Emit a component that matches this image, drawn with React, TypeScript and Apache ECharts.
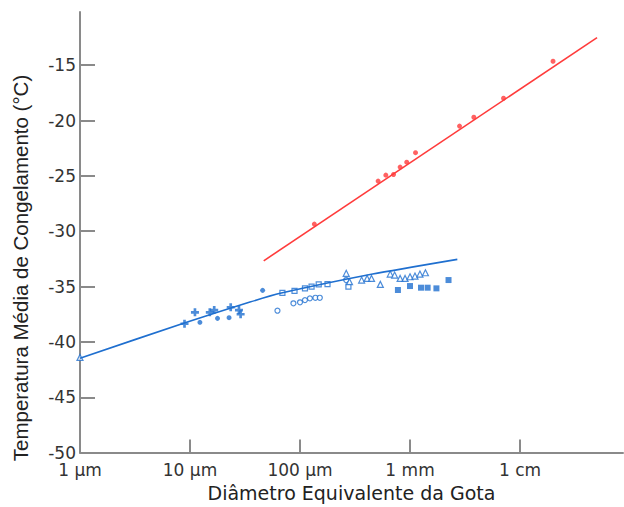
import React, { useEffect, useRef } from "react";
import * as echarts from "echarts";

// x values are log10 of the droplet diameter in µm; y values are temperature in °C
const xTickValues = [0, 1, 2, 3, 4];
const xTickLabels = ["1 μm", "10 μm", "100 μm", "1 mm", "1 cm"];
const yTickValues = [-50, -45, -40, -35, -30, -25, -20, -15];

const redFitLine: [number, number][] = [
  [1.67, -32.67],
  [4.7, -12.5],
];
const redPoints: [number, number][] = [
  [2.13, -29.35],
  [2.71, -25.47],
  [2.78, -24.93],
  [2.85, -24.87],
  [2.91, -24.2],
  [2.97, -23.76],
  [3.05, -22.9],
  [3.45, -20.5],
  [3.58, -19.7],
  [3.85, -17.98],
  [4.3, -14.64],
];

const blueFitLine: [number, number][] = [
  [0, -41.48],
  [0.955, -38.26],
  [1.545, -36.4],
  [1.82, -35.61],
  [2.66, -33.87],
  [3.43, -32.54],
];
const bluePlus: [number, number][] = [
  [0.95, -38.36],
  [1.045, -37.33],
  [1.18, -37.33],
  [1.22, -37.12],
  [1.37, -36.87],
  [1.445, -37.12],
  [1.46, -37.5],
];
const blueDots: [number, number][] = [
  [1.09, -38.23],
  [1.25, -37.87],
  [1.355, -37.81],
  [1.66, -35.34],
];
const blueOpenCircles: [number, number][] = [
  [1.795, -37.18],
  [1.94, -36.51],
  [2.0, -36.42],
  [2.045, -36.22],
  [2.09, -36.06],
  [2.14, -36.01],
  [2.18, -36.01],
  [2.42, -34.41],
];
const blueOpenSquares: [number, number][] = [
  [1.84, -35.56],
  [1.95, -35.38],
  [2.045, -35.16],
  [2.105, -35.01],
  [2.17, -34.8],
  [2.25, -34.77],
  [2.44, -35.01],
];
const blueOpenTriangles: [number, number][] = [
  [0, -41.4],
  [2.42, -33.8],
  [2.45, -34.56],
  [2.56, -34.41],
  [2.61, -34.26],
  [2.65, -34.26],
  [2.73, -34.8],
  [2.82, -33.87],
  [2.86, -33.96],
  [2.91, -34.26],
  [2.955, -34.26],
  [3.0, -34.11],
  [3.045, -34.05],
  [3.09, -33.87],
  [3.14, -33.75],
];
const blueFilledSquares: [number, number][] = [
  [2.89, -35.31],
  [3.0, -34.95],
  [3.1, -35.1],
  [3.16, -35.1],
  [3.24, -35.16],
  [3.35, -34.41],
];

const BLUE = "#1f6fcf";
const RED = "#ff3b3b";
const AXIS = "#8a8a8a";

export default function App() {
  const ref = useRef<HTMLDivElement>(null);
  useEffect(() => {
    if (!ref.current) return;
    const chart = echarts.init(ref.current, null, { renderer: "svg" });
    const openStyle = { color: "#ffffff", borderColor: BLUE, borderWidth: 1.2 };
    chart.setOption({
      animation: false,
      grid: { left: 80, top: 12, width: 543, height: 441 },
      xAxis: {
        type: "value",
        min: 0,
        max: 4.936,
        name: "Diâmetro Equivalente da Gota",
        nameLocation: "middle",
        nameGap: 30,
        nameTextStyle: { fontFamily: "DejaVu Sans", fontSize: 19, color: "#222" },
        axisLine: { lineStyle: { color: AXIS, width: 2 } },
        axisTick: { inside: true, length: 13, lineStyle: { color: AXIS, width: 2 }, customValues: xTickValues },
        axisLabel: {
          customValues: xTickValues,
          margin: 9,
          lineHeight: 16,
          fontFamily: "DejaVu Sans",
          fontSize: 17,
          color: "#333",
          formatter: (v: number) => {
            const i = xTickValues.indexOf(Math.round(v));
            return i >= 0 ? xTickLabels[i] : "";
          },
        },
        splitLine: { show: false },
      },
      yAxis: {
        type: "value",
        min: -50,
        max: -10.19,
        axisLine: { lineStyle: { color: AXIS, width: 2 } },
        axisTick: { inside: true, length: 15, lineStyle: { color: AXIS, width: 2 }, customValues: yTickValues },
        axisLabel: {
          customValues: yTickValues,
          margin: 4,
          lineHeight: 12,
          fontFamily: "DejaVu Sans",
          fontSize: 17,
          color: "#333",
        },
        splitLine: { show: false },
      },
      graphic: [
        {
          type: "text",
          x: 20,
          y: 268,
          rotation: Math.PI / 2,
          style: {
            text: "Temperatura Média de Congelamento (°C)",
            fontFamily: "Liberation Sans",
            fontSize: 20.5,
            fill: "#222",
            align: "center",
            verticalAlign: "middle",
          },
        },
      ],
      series: [
        {
          type: "line",
          data: redFitLine,
          showSymbol: false,
          lineStyle: { color: RED, width: 1.6 },
          silent: true,
        },
        {
          type: "line",
          data: blueFitLine,
          showSymbol: false,
          smooth: 0.2,
          lineStyle: { color: BLUE, width: 1.6 },
          silent: true,
        },
        {
          type: "scatter",
          data: redPoints,
          symbol: "circle",
          symbolSize: 5,
          itemStyle: { color: RED },
          clip: false,
        },
        {
          type: "scatter",
          data: bluePlus,
          symbol: "path://M2,0H4V2H6V4H4V6H2V4H0V2H2Z",
          symbolSize: 8,
          itemStyle: { color: BLUE },
          clip: false,
        },
        {
          type: "scatter",
          data: blueDots,
          symbol: "circle",
          symbolSize: 5,
          itemStyle: { color: BLUE },
          clip: false,
        },
        {
          type: "scatter",
          data: blueOpenCircles,
          symbol: "circle",
          symbolSize: 5,
          itemStyle: openStyle,
          clip: false,
        },
        {
          type: "scatter",
          data: blueOpenSquares,
          symbol: "rect",
          symbolSize: 5,
          itemStyle: openStyle,
          clip: false,
        },
        {
          type: "scatter",
          data: blueOpenTriangles,
          symbol: "triangle",
          symbolSize: 6,
          itemStyle: openStyle,
          clip: false,
        },
        {
          type: "scatter",
          data: blueFilledSquares,
          symbol: "rect",
          symbolSize: 6,
          itemStyle: { color: BLUE },
          clip: false,
        },
      ],
    });
    return () => chart.dispose();
  }, []);
  return (
    <div
      ref={ref}
      style={{ position: "absolute", left: 0, top: 0, width: 624, height: 507 }}
    />
  );
}
